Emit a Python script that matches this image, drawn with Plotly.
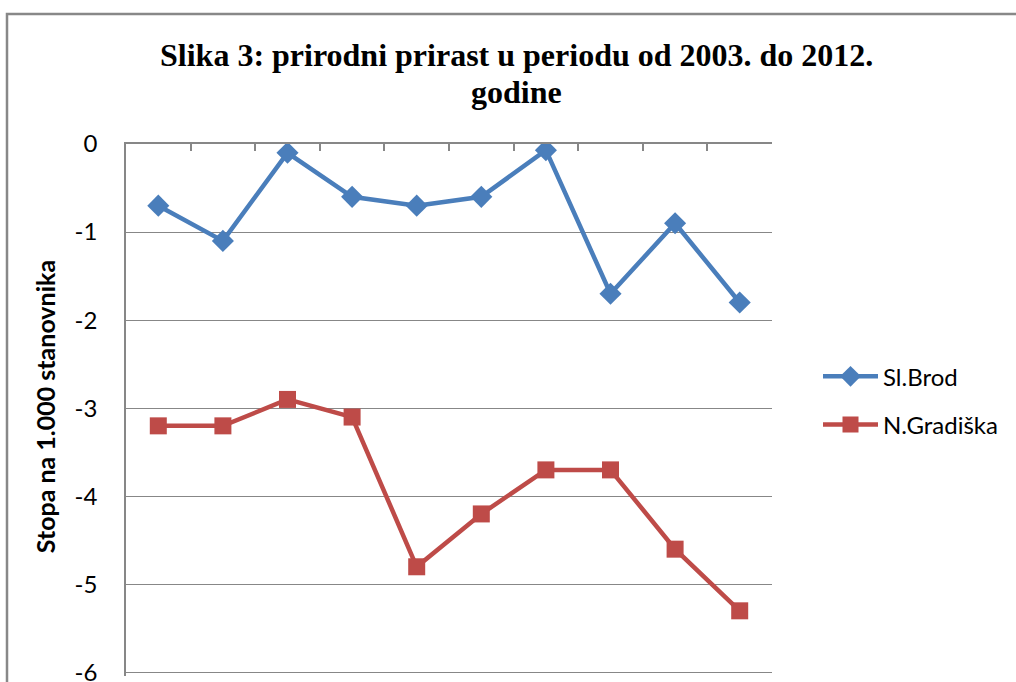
import plotly.graph_objects as go

years = ["2003", "2004", "2005", "2006", "2007", "2008", "2009", "2010", "2011", "2012"]
sl_brod = [-0.7, -1.1, -0.1, -0.6, -0.7, -0.6, -0.07, -1.7, -0.9, -1.8]
n_gradiska = [-3.2, -3.2, -2.9, -3.1, -4.8, -4.2, -3.7, -3.7, -4.6, -5.3]
y_ticks = [0, -1, -2, -3, -4, -5, -6]

W, H = 1016, 682
Y_LOW = -6.04
L, R, T = 126, 772, 144
B = T + 88 * (-Y_LOW)
pw, ph = R - L, B - T

def px(x):
    return (x - L) / pw

def py(y):
    return (B - y) / ph

grid = "#878787"
sans = "Lato, Carlito, Calibri, sans-serif"
serif = "Liberation Serif, Times New Roman, serif"

fig = go.Figure()
fig.add_trace(go.Scatter(
    x=years, y=sl_brod, name="Sl.Brod", mode="lines+markers",
    line=dict(color="#4A7EBB", width=4.5),
    marker=dict(symbol="diamond", size=17, color="#4A7EBB"),
    legendgroup="a",
))
fig.add_trace(go.Scatter(
    x=years, y=n_gradiska, name="N.Gradiška", mode="lines+markers",
    line=dict(color="#BE4B48", width=4.5),
    marker=dict(symbol="square", size=17, color="#BE4B48"),
    legendgroup="b",
))

fig.update_layout(
    width=W, height=H,
    margin=dict(l=L, r=W - R, t=T, b=H - B, autoexpand=False),
    paper_bgcolor="white", plot_bgcolor="white",
    showlegend=True,
    legend=dict(
        x=px(818), y=py(354), xanchor="left", yanchor="top",
        font=dict(family=sans, size=24, color="#000000"),
        itemwidth=55, tracegroupgap=14, traceorder="grouped",
        bgcolor="rgba(0,0,0,0)",
    ),
    xaxis=dict(
        type="category", side="top", range=[-0.5, 9.5],
        showticklabels=False, showgrid=False,
        showline=True, linecolor=grid, linewidth=1.5,
        ticks="inside", ticklen=7, tickcolor=grid, tickwidth=1.5,
        tickson="boundaries", zeroline=False,
    ),
    yaxis=dict(
        range=[Y_LOW, 0], tickvals=y_ticks, ticktext=[str(v) for v in y_ticks],
        showgrid=True, gridcolor=grid, gridwidth=1.2,
        showline=True, linecolor=grid, linewidth=1.5,
        zeroline=False, ticks="",
        tickfont=dict(family=sans, size=24, color="#000000"),
        ticklabelstandoff=22, ticklabeloverflow="allow",
    ),
    annotations=[
        dict(text="<b>Slika 3: prirodni prirast u periodu od 2003. do 2012.</b>",
             xref="paper", yref="paper", x=px(516), y=py(55),
             xanchor="center", yanchor="middle", showarrow=False,
             font=dict(family=serif, size=32, color="#000000")),
        dict(text="<b>godine</b>",
             xref="paper", yref="paper", x=px(516), y=py(92),
             xanchor="center", yanchor="middle", showarrow=False,
             font=dict(family=serif, size=32, color="#000000")),
        dict(text="<b>Stopa na 1.000 stanovnika</b>",
             xref="paper", yref="paper", x=px(45), y=py(407),
             xanchor="center", yanchor="middle", showarrow=False, textangle=-90,
             font=dict(family=sans, size=25, color="#000000")),
    ],
    shapes=[
        dict(type="rect", xref="paper", yref="paper",
             x0=px(7), x1=px(1030), y0=py(700), y1=py(14),
             line=dict(color="#888888", width=2.5), fillcolor="rgba(0,0,0,0)",
             layer="below"),
    ],
)

fig.write_html(
    "out.html",
    config={"displayModeBar": False},
    post_script="document.body.style.margin='0';document.body.style.overflow='hidden';",
)
